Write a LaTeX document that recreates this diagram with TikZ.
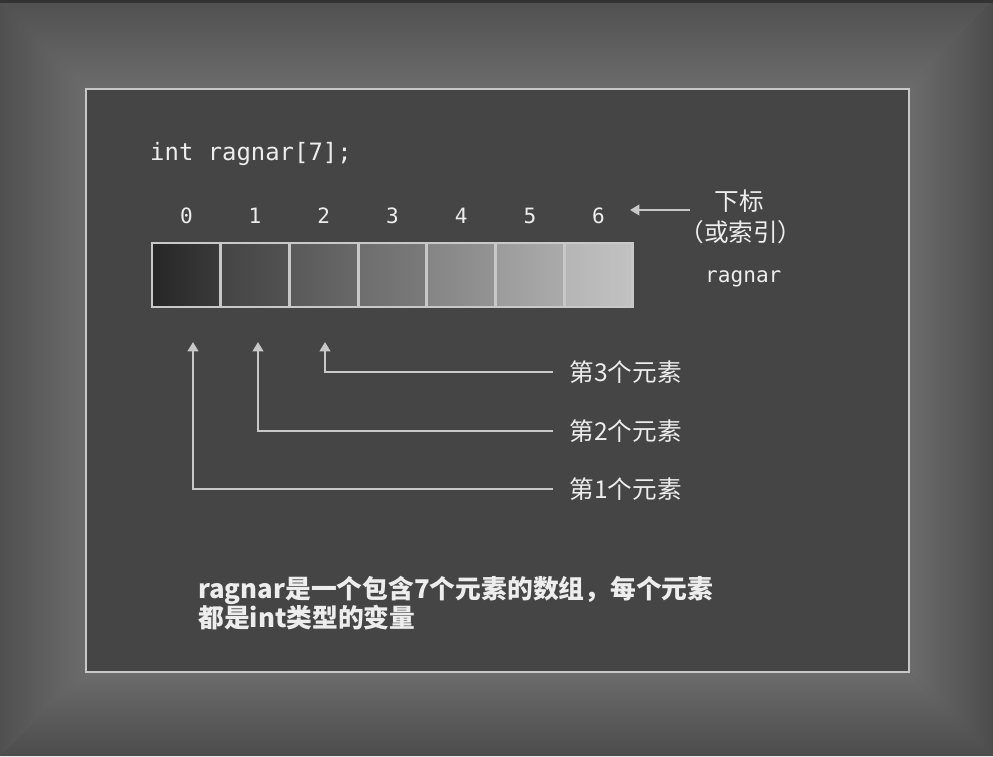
\documentclass[tikz,border=0pt]{standalone}
\usepackage{fontspec}
\setmonofont{DejaVu Sans Mono}
\newfontfamily\cjk{Noto Sans CJK SC}
\usetikzlibrary{arrows.meta}
\definecolor{FrameOut}{HTML}{505050}
\definecolor{FrameIn}{HTML}{6C6C6C}
\definecolor{BoardGray}{HTML}{454545}
\definecolor{LineGray}{HTML}{C8C8C8}
\definecolor{TextWhite}{HTML}{EDEDED}

\begin{document}
\begin{tikzpicture}[x=0.03cm, y=-0.03cm,
  every node/.style={text=TextWhite, inner sep=0pt},
  code/.style={font=\ttfamily\fontsize{20.4}{24}\selectfont},
  idx/.style={font=\ttfamily\fontsize{18}{22}\selectfont},
  cjklabel/.style={font=\cjk\fontsize{21}{25}\selectfont},
  cell/.style={draw=LineGray, line width=2.5pt, minimum width=2.06cm, minimum height=1.92cm},
  pointer/.style={draw=LineGray, line width=2pt, -{Triangle[width=9pt,length=8pt]}}]
\useasboundingbox (0,0) rectangle (993,756);

% frame
\fill[FrameOut] (0,0) rectangle (993,756);
\shade[top color=FrameOut, bottom color=FrameIn] (0,0) -- (993,0) -- (909,89) -- (86,89) -- cycle;
\shade[top color=FrameIn, bottom color=FrameOut!95!black] (86,672) -- (909,672) -- (993,756) -- (0,756) -- cycle;
\shade[left color=FrameOut, right color=FrameIn] (0,0) -- (86,89) -- (86,672) -- (0,756) -- cycle;
\shade[left color=FrameIn, right color=FrameOut!95!black] (909,89) -- (993,0) -- (993,756) -- (909,672) -- cycle;
\fill[black!80] (0,0) rectangle (993,3);
\draw[LineGray, line width=2.5pt, fill=BoardGray] (86,89) rectangle (909,672);

% declaration
\node[code, anchor=base west] (decl) at (150,160) {int ragnar[7];};

% array cells and indices
\foreach \i/\a/\b in {0/0.15/0.23, 1/0.27/0.32, 2/0.35/0.41, 3/0.43/0.48, 4/0.52/0.58, 5/0.61/0.67, 6/0.71/0.76} {
  \definecolor{cl}{gray}{\a}
  \definecolor{cr}{gray}{\b}
  \node[cell, left color=cl, right color=cr] (c\i) at ({152+68.7*(\i+0.5)},275) {};
  \node[idx, anchor=base] (i\i) at ({152+68.7*(\i+0.5)},223) {\i};
}

% subscript note
\node[cjklabel, anchor=base west, inner xsep=21pt] (sub) at (690,210) {下标};
\node[cjklabel] (subb) at (741,232) {（或索引）};
\coordinate (subtip) at (630,210);
\draw[pointer] (sub.base west) -- (subtip);
\node[idx, anchor=base west] (name) at (705,282) {ragnar};

% element pointers
\node[cjklabel, anchor=west, inner xsep=14pt] (e3) at (553,372) {第3个元素};
\node[cjklabel, anchor=west, inner xsep=14pt] (e2) at (553,431) {第2个元素};
\node[cjklabel, anchor=west, inner xsep=14pt] (e1) at (553,489) {第1个元素};
\coordinate (t0) at (193,342);
\coordinate (t1) at (258,342);
\coordinate (t2) at (325,342);
\draw[pointer] (e3.west) -| (t2);
\draw[pointer] (e2.west) -| (t1);
\draw[pointer] (e1.west) -| (t0);

% caption
\node[font=\cjk\bfseries\fontsize{22}{24.7}\selectfont, anchor=base west, align=left] (note) at (198,627)
  {ragnar是一个包含7个元素的数组，每个元素\\都是int类型的变量};
\end{tikzpicture}
\end{document}
